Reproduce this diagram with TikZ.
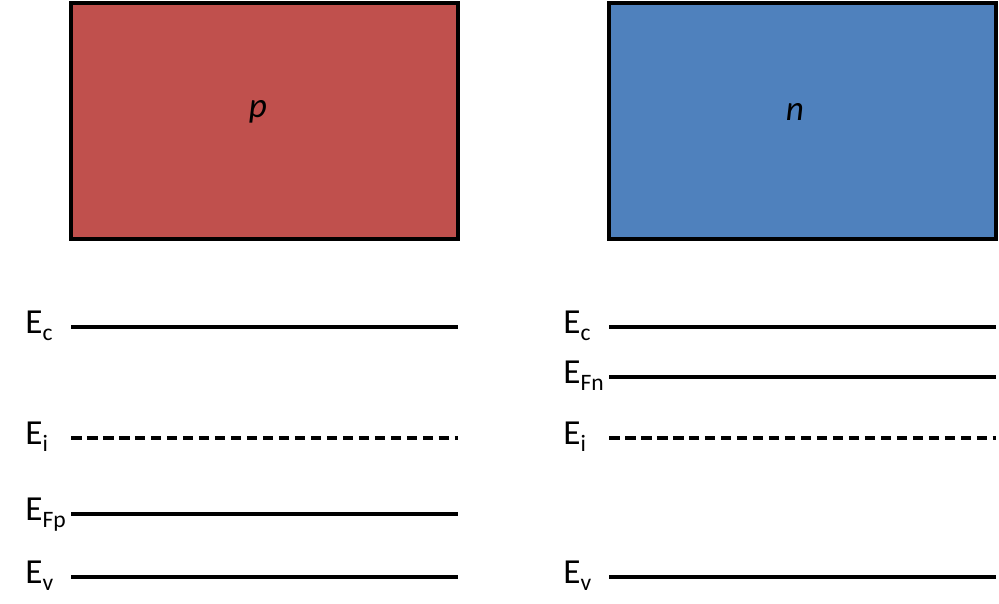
\documentclass[tikz,border=0pt]{standalone}
\usepackage{fontspec}
\setmainfont{Carlito}
\definecolor{pred}{HTML}{C0504D}
\definecolor{nblue}{HTML}{4F81BD}
\newcommand{\lsub}[1]{\raisebox{-4.5pt}{\fontsize{13.4}{15}\selectfont #1}}
\tikzset{
 level/.style={line width=1.8pt},
 intr/.style={line width=1.8pt,dash pattern=on 6pt off 3.1pt},
 lab/.style={anchor=base west,inner sep=0pt,font=\fontsize{20}{24}\selectfont},
}

\begin{document}
\begin{tikzpicture}[x=0.02cm,y=-0.02cm]
\useasboundingbox (0,0) rectangle (999,604);
\draw[line width=1.8pt,fill=pred] (71,3) rectangle (458,239);
\draw[line width=1.8pt,fill=nblue] (609,3) rectangle (996,239);
\node (p) at (258,112) {\fontsize{20}{24}\selectfont\itshape p};
\node (n) at (795,112) {\fontsize{20}{24}\selectfont\itshape n};
% p side
\draw[level] (71,327) -- (458,327);
\draw[intr] (71,438) -- (458,438);
\draw[level] (71,514) -- (458,514);
\draw[level] (71,577) -- (458,577);
\node[lab] (ecp) at (25,333) {E\lsub{c}};
\node[lab] (eip) at (25,444) {E\lsub{i}};
\node[lab] (efp) at (25,520) {E\lsub{Fp}};
\node[lab] (evp) at (25,583) {E\lsub{v}};
% n side
\draw[level] (609,327) -- (996,327);
\draw[level] (609,377) -- (996,377);
\draw[intr] (609,438) -- (996,438);
\draw[level] (609,577) -- (996,577);
\node[lab] (ecn) at (563,333) {E\lsub{c}};
\node[lab] (efn) at (563,383) {E\lsub{Fn}};
\node[lab] (ein) at (563,444) {E\lsub{i}};
\node[lab] (evn) at (563,583) {E\lsub{v}};
\end{tikzpicture}
\end{document}
